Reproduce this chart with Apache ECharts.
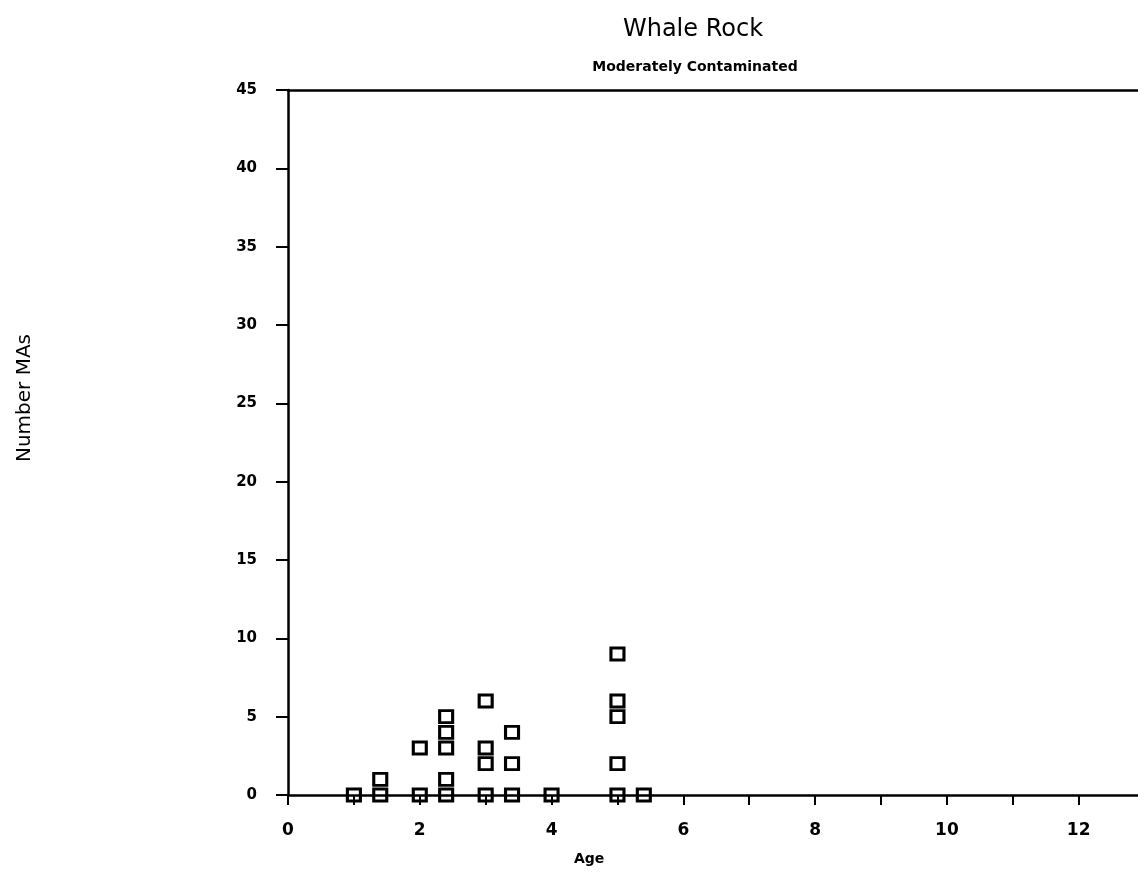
<!DOCTYPE html>
<html>
<head>
<meta charset="utf-8">
<script src="https://cdn.jsdelivr.net/npm/echarts@6/dist/echarts.min.js"></script>
<style>html,body{margin:0;padding:0;background:#fff}#c{width:1138px;height:892px}</style>
</head>
<body>
<div id="c"></div>
<script>
// Data
const ages   = [1, 1.4, 1.4, 2, 2, 2.4, 2.4, 2.4, 2.4, 2.4, 3, 3, 3, 3, 3.4, 3.4, 3.4, 4, 5, 5, 5, 5, 5, 5.4];
const counts = [0, 0,   1,   0, 3, 0,   1,   3,   4,   5,   0, 2, 3, 6, 0,   2,   4,   0, 0, 2, 5, 6, 9, 0];
const xTicks = [0, 2, 4, 6, 8, 10, 12];
const yTicks = [0, 5, 10, 15, 20, 25, 30, 35, 40, 45];
const titleText = 'Whale Rock';
const subtitleText = 'Moderately Contaminated';
const xName = 'Age';
const yName = 'Number MAs';

const points = ages.map((a, i) => [a, counts[i]]);
const font = 'DejaVu Sans';

const chart = echarts.init(document.getElementById('c'));
chart.setOption({
  backgroundColor: '#fff',
  animation: false,
  title: [
    { text: titleText, left: 688, top: 13, textAlign: 'center',
      textStyle: { fontFamily: font, fontSize: 24, fontWeight: 'normal', color: '#000' } },
    { text: subtitleText, left: 690, top: 55, textAlign: 'center',
      textStyle: { fontFamily: font, fontSize: 14, fontWeight: 'bold', color: '#000' } }
  ],
  graphic: [
    { type: 'text', left: 574, top: 852,
      style: { text: xName, font: 'bold 14px "DejaVu Sans"', fill: '#000' } },
    { type: 'text', x: 25, y: 398, rotation: Math.PI / 2,
      style: { text: yName, font: '20px "DejaVu Sans"', fill: '#000', align: 'center', verticalAlign: 'middle' } }
  ],
  grid: { left: 288, right: 0, top: 90, bottom: 97, containLabel: false },
  xAxis: [
    {
      type: 'value', min: 0, max: 12.9, interval: 1,
      axisLine: { show: true, lineStyle: { color: '#000', width: 2.5 } },
      axisTick: { show: true, length: 10, lineStyle: { color: '#000', width: 2 } },
      axisLabel: {
        margin: 27, color: '#000', fontFamily: font, fontWeight: 'bold', fontSize: 17,
        showMaxLabel: false,
        formatter: v => (xTicks.indexOf(v) >= 0 ? String(v) : '')
      },
      splitLine: { show: false }
    },
    {
      type: 'value', min: 0, max: 12.9, position: 'top',
      axisLine: { show: true, lineStyle: { color: '#000', width: 2.5 } },
      axisTick: { show: false }, axisLabel: { show: false }, splitLine: { show: false }
    }
  ],
  yAxis: {
    type: 'value', min: 0, max: 45, interval: 5,
    axisLine: { show: true, lineStyle: { color: '#000', width: 2.5 } },
    axisTick: { show: true, length: 12, lineStyle: { color: '#000', width: 2 } },
    axisLabel: {
      margin: 31, color: '#000', fontFamily: font, fontWeight: 'bold', fontSize: 15,
      formatter: v => (yTicks.indexOf(v) >= 0 ? String(v) : '')
    },
    splitLine: { show: false }
  },
  series: [{
    type: 'scatter',
    data: points,
    symbol: 'rect',
    symbolSize: [13, 12],
    itemStyle: { color: 'rgba(0,0,0,0)', borderColor: '#000', borderWidth: 3, opacity: 1 },
    z: 5
  }]
});
</script>
</body>
</html>
